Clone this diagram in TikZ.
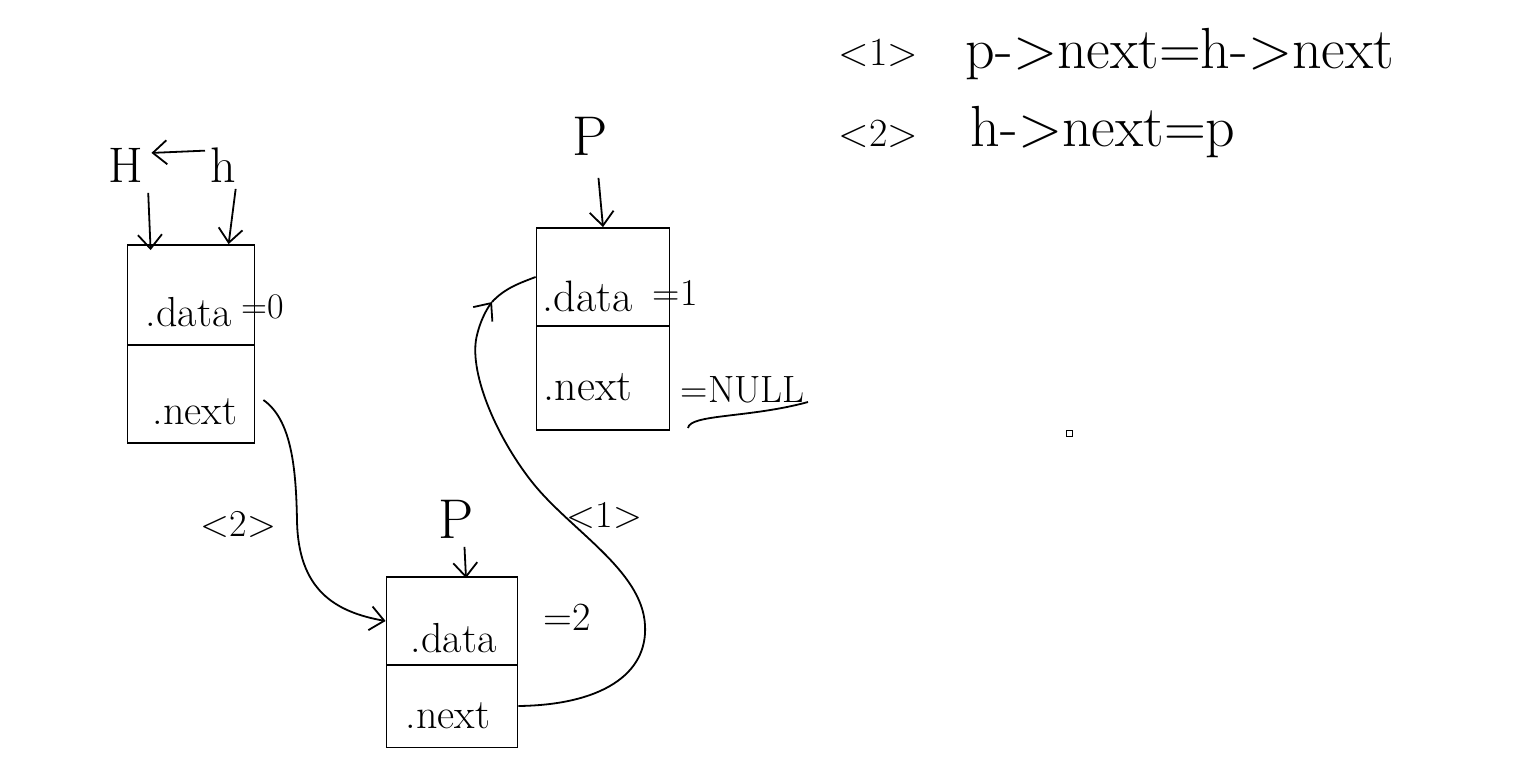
\documentclass[tikz,border=0pt]{standalone}
\usetikzlibrary{arrows.meta,calc}
\begin{document}
\begin{tikzpicture}[x=1pt,y=-1pt,
  line width=1.8pt,
  cell/.style={draw,line width=1.8pt,inner sep=0pt,minimum width=#1},
  arr/.style={-{Straight Barb[length=14pt,width=24pt,line width=1.8pt]}},
  lbl/.style={inner sep=0pt,anchor=base west},
  ]
\fill[white] (0,0) rectangle (1528,784);
\useasboundingbox (0,0) rectangle (1528,784);

% top formulas
\node[lbl,font=\fontsize{40}{44}\selectfont] (f1n) at (838,66) {<1>};
\node[lbl,font=\fontsize{58}{62}\selectfont] (f1) at (965,68) {p->next=h->next};
\node[lbl,font=\fontsize{40}{44}\selectfont] (f2n) at (838,146) {<2>};
\node[lbl,font=\fontsize{58}{62}\selectfont] (f2) at (970,146) {h->next=p};

% head node
\node[cell=127pt,minimum height=100pt] (b1d) at (191,295) {};
\node[cell=127pt,minimum height=98pt] (b1n) at (191,394) {};
\node[lbl,font=\fontsize{42}{46}\selectfont] (t1d) at (145,326) {.data};
\node[lbl,font=\fontsize{36}{40}\selectfont] (t1e) at (241,318) {=0};
\node[lbl,font=\fontsize{42}{46}\selectfont] (t1n) at (152,424) {.next};

% H <- h
\node[lbl,font=\fontsize{50}{54}\selectfont] (Hl) at (108,182) {H};
\node[lbl,font=\fontsize{50}{54}\selectfont] (hl) at (210,182) {h};
\draw[arr] ($(hl.west)+(-5,-14)$) coordinate (hs) -- ($(Hl.east)+(7,-12)$) coordinate (he);
\draw[arr] ($(Hl.south)+(22,10)$) -- ($(b1d.north west)+(24,6)$);
\draw[arr] ($(hl.south)+(12,6)$) -- ($(b1d.north west)+(102,0)$);

% upper p node
\node[cell=133pt,minimum height=98pt] (b2d) at (603,277) {};
\node[cell=133pt,minimum height=104pt] (b2n) at (603,378) {};
\node[lbl,font=\fontsize{44}{48}\selectfont] (t2d) at (542,311) {.data};
\node[lbl,font=\fontsize{38}{42}\selectfont] (t2e) at (652,305) {=1};
\node[lbl,font=\fontsize{44}{48}\selectfont] (t2n) at (543,400) {.next};
\node[lbl,font=\fontsize{38}{42}\selectfont] (nul) at (680,402) {=NULL};
\coordinate (u1) at (688,428);
\coordinate (u2) at (808,402);
\draw (u1) .. controls (690,414) and (750,418) .. (u2);
\node[lbl,font=\fontsize{56}{60}\selectfont] (P2) at (572,155) {P};
\draw[arr] ($(P2.south)+(8,22)$) -- (b2d.north);

% new p node
\node[cell=131pt,minimum height=88pt] (b3d) at (452,621) {};
\node[cell=131pt,minimum height=83pt] (b3n) at (452,706) {};
\node[lbl,font=\fontsize{42}{46}\selectfont] (t3d) at (410,652) {.data};
\node[lbl,font=\fontsize{40}{44}\selectfont] (t3e) at (543,630) {=2};
\node[lbl,font=\fontsize{42}{46}\selectfont] (t3n) at (405,728) {.next};
\node[lbl,font=\fontsize{56}{60}\selectfont] (P3) at (438,538) {P};
\draw[arr] ($(P3.south)+(8,8)$) -- ($(b3d.north)+(14,2)$);

% link <2>
\draw[arr] ($(b1n.east)+(8,6)$) coordinate (s2)
  .. controls (292,420) and (296,470) .. (297,520)
  .. controls (298,590) and (335,612) .. (b3d.west);
\node[lbl,font=\fontsize{38}{42}\selectfont] (L2) at (200,536) {<2>};

% link <1>
\coordinate (k1) at (492,302);
\draw[arr] (b3n.east)
  .. controls (600,705) and (648,675) .. (645,625)
  .. controls (642,570) and (570,530) .. (532,482)
  .. controls (495,435) and (468,370) .. (477,335)
  .. controls (480,322) and (486,310) .. (k1);
\draw (k1) .. controls (505,288) and (520,283) .. (b2d.west);
\node[lbl,font=\fontsize{38}{42}\selectfont] (L1) at (566,527) {<1>};

% stray mark
\node[draw,line width=1pt,inner sep=0pt,minimum size=6pt] (sq) at (1069,433) {};
\end{tikzpicture}
\end{document}
